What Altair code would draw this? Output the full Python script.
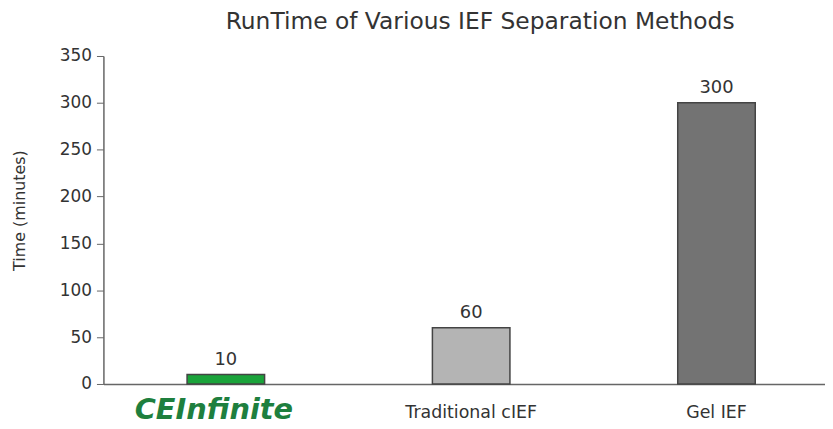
import altair as alt
import pandas as pd

methods = ["CEInfinite", "Traditional cIEF", "Gel IEF"]
times = [10, 60, 300]
colors = ["#1aa33a", "#b4b4b4", "#737373"]

df = pd.DataFrame({"method": methods, "time": times, "color": colors})

is_logo = "datum.value == 'CEInfinite'"

x = alt.X(
    "method:N",
    sort=methods,
    title=None,
    scale=alt.Scale(range=[0, 740], paddingInner=0.684, paddingOuter=0.341),
    axis=alt.Axis(
        labelAngle=0,
        ticks=False,
        domainColor="#666",
        domainWidth=1.5,
        labelPadding={"condition": {"test": is_logo, "value": 26}, "value": 29},
        labelOffset={"condition": {"test": is_logo, "value": -12}, "value": 0},
        labelBaseline="middle",
        labelFont="DejaVu Sans",
        labelFontSize={"condition": {"test": is_logo, "value": 29}, "value": 17.5},
        labelFontWeight={"condition": {"test": is_logo, "value": "bold"}, "value": "normal"},
        labelFontStyle={"condition": {"test": is_logo, "value": "italic"}, "value": "normal"},
        labelColor={"condition": {"test": is_logo, "value": "#1e7f3e"}, "value": "#333"},
    ),
)

y = alt.Y(
    "time:Q",
    title="Time (minutes)",
    scale=alt.Scale(domain=[0, 350]),
    axis=alt.Axis(
        values=[0, 50, 100, 150, 200, 250, 300, 350],
        grid=False,
        domainColor="#666",
        domainWidth=1.5,
        tickColor="#666",
        tickSize=7,
        labelFont="DejaVu Sans",
        labelFontSize=17,
        labelColor="#333",
        labelPadding=5,
        titleFont="DejaVu Sans",
        titleFontSize=16,
        titleFontWeight="normal",
        titleColor="#333",
        titlePadding=32,
        titleY=155,
    ),
)

bars = alt.Chart(df).mark_bar(stroke="#444", strokeWidth=1.5).encode(
    x=x,
    y=y,
    color=alt.Color("color:N", scale=None),
)

labels = alt.Chart(df).mark_text(
    dy=-6, font="DejaVu Sans", fontSize=18, color="#333", baseline="bottom"
).encode(
    x=alt.X("method:N", sort=methods),
    y="time:Q",
    text="time:Q",
)

chart = (
    alt.layer(bars, labels)
    .properties(
        width=726,
        height=330,
        title=alt.TitleParams(
            "RunTime of Various IEF Separation Methods",
            font="DejaVu Sans",
            fontSize=23.5,
            fontWeight="normal",
            color="#333",
            anchor="middle",
            dx=16,
            offset=14,
        ),
        autosize="none",
        padding={"left": 96, "top": 47, "right": 0, "bottom": 44},
    )
    .configure_view(stroke=None)
)

chart.save("out.html", embed_options={"renderer": "svg", "actions": False})
